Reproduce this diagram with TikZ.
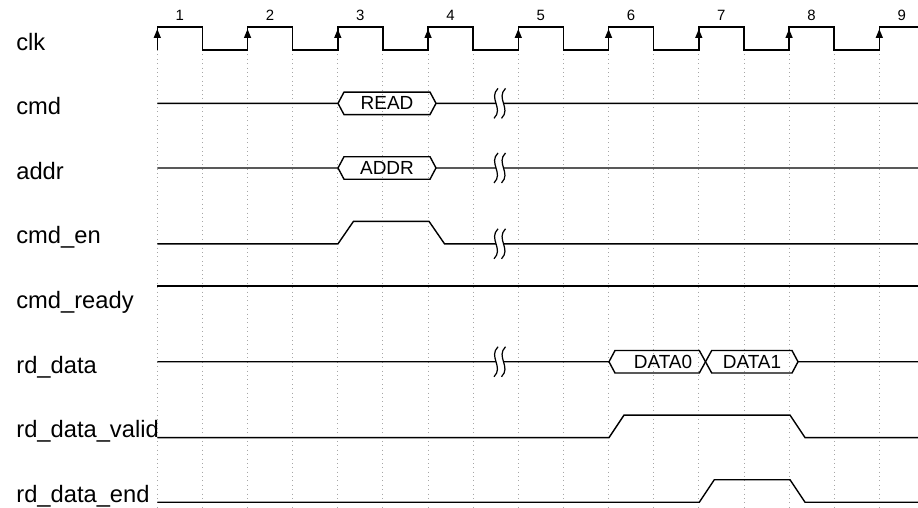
\documentclass[tikz,border=0pt]{standalone}
\usepackage{fontspec}
\setmainfont{Liberation Sans}
\usetikzlibrary{arrows.meta}

\begin{document}
\begin{tikzpicture}[x=0.02cm,y=-0.02cm,
    wave/.style={line width=0.8pt},
    gridline/.style={gray!70, dotted, line width=0.5pt},
    signame/.style={anchor=base west, inner sep=0pt, font=\fontsize{13.5}{16}\selectfont},
    cyclenum/.style={anchor=base, inner sep=0pt, font=\fontsize{8.5}{10}\selectfont},
    bustext/.style={inner sep=0pt, font=\fontsize{10.8}{12}\selectfont}]

	\useasboundingbox (0,0) rectangle (918,507);

	% dotted grid at every clock edge
	\foreach \i in {0,...,16}
		\draw[gridline] ({157.3+45.125*\i},50) -- ({157.3+45.125*\i},507);

	% signal names
	\foreach \nm/\txt [count=\i from 0] in {lclk/clk, lcmd/cmd, laddr/addr, lcmden/cmd\_en,
			lcmdrdy/cmd\_ready, lrddata/rd\_data, lvalid/rd\_data\_valid, lend/rd\_data\_end}
		\node[signame] (\nm) at (16,{50+64.6*\i}) {\txt};

	% clk
	\draw[wave] (157.3,50) \foreach \k in {0,...,7} { -- ++(0,-23) -- ++(45.125,0) -- ++(0,23) -- ++(45.125,0) }
		-- ++(0,-23) -- (918,27);
	\foreach \k in {0,...,8}
		\draw[wave, -{Triangle[width=0.14cm,length=0.18cm]}] ({157.3+90.25*\k},48) -- ({157.3+90.25*\k},29);
	\foreach \k in {1,...,9}
		\node[cyclenum] (cyc\k) at ({157.3+90.25*(\k-1)+22.5},20.5) {\k};

	% cmd and addr
	\foreach \c/\txt/\nm in {103.35/READ/read, 167.95/ADDR/addr} {
		\draw[wave] (157.3,\c) -- (338,\c) -- (344,{\c-11.25}) -- (430,{\c-11.25}) -- (436,\c) -- (918,\c);
		\draw[wave] (338,\c) -- (344,{\c+11.25}) -- (430,{\c+11.25}) -- (436,\c);
		\node[bustext] (\nm) at (387,\c) {\txt};
	}

	% cmd_en
	\draw[wave] (157.3,243.8) -- (338,243.8) -- (353.5,221.3) -- (429,221.3) -- (444.5,243.8) -- (918,243.8);

	% cmd_ready
	\draw[wave] (157.3,285.9) -- (918,285.9);

	% rd_data
	\draw[wave] (157.3,361.75) -- (609,361.75) -- (615,350.5) -- (699.3,350.5) -- (711.7,373) -- (792,373)
		-- (798,361.75) -- (918,361.75);
	\draw[wave] (609,361.75) -- (615,373) -- (699.3,373) -- (711.7,350.5) -- (792,350.5) -- (798,361.75);
	\node[bustext] (data0) at (663,361.75) {DATA0};
	\node[bustext] (data1) at (752,361.75) {DATA1};

	% rd_data_valid
	\draw[wave] (157.3,437.6) -- (609,437.6) -- (624,415.1) -- (790,415.1) -- (805,437.6) -- (918,437.6);

	% rd_data_end
	\draw[wave] (157.3,502.2) -- (699.3,502.2) -- (714.3,479.7) -- (790,479.7) -- (805,502.2) -- (918,502.2);

	% time breaks
	\foreach \y in {103.35, 167.95, 243.8, 361.75} {
		\fill[white] (498,{\y-15}) .. controls (488,{\y-5}) and (504,{\y+5}) .. (494,{\y+15})
			-- (501.5,{\y+15}) .. controls (511.5,{\y+5}) and (495.5,{\y-5}) .. (505.5,{\y-15}) -- cycle;
		\draw[line width=0.7pt] (498,{\y-15}) .. controls (488,{\y-5}) and (504,{\y+5}) .. (494,{\y+15});
		\draw[line width=0.7pt] (505.5,{\y-15}) .. controls (495.5,{\y-5}) and (511.5,{\y+5}) .. (501.5,{\y+15});
	}

\end{tikzpicture}
\end{document}
